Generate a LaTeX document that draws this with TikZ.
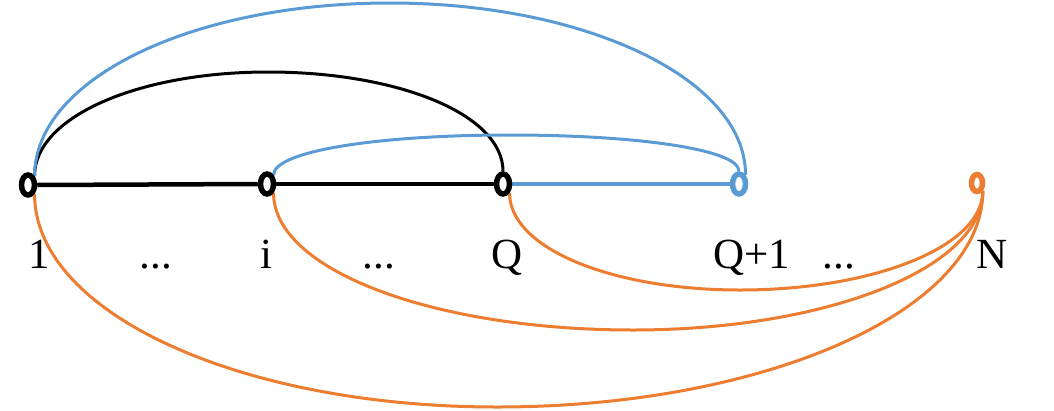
\documentclass[tikz,border=0pt]{standalone}
\usepackage{fontspec}
\setmainfont{Liberation Serif}
\usetikzlibrary{shapes.geometric,backgrounds}
\definecolor{oblue}{HTML}{5B9BD5}
\definecolor{oorange}{HTML}{ED7D31}
\begin{document}
\begin{tikzpicture}[x=1pt,y=-1pt,
  vtx/.style={ellipse,draw=black,line width=5.5pt,fill=white,inner sep=0pt,minimum width=13pt,minimum height=20pt},
  lbl/.style={anchor=base,font=\fontsize{43}{50}\selectfont,inner sep=0pt},
  blkline/.style={draw=black,line width=4.5pt},
  blkarc/.style={draw=black,line width=3pt},
  blueline/.style={draw=oblue,line width=3.5pt},
  bluearc/.style={draw=oblue,line width=3pt},
  orarc/.style={draw=oorange,line width=3pt}]
\useasboundingbox (0,0) rectangle (1054,410);
% vertices
\node[vtx] (n1) at (28,185) {};
\node[vtx] (ni) at (267,184) {};
\node[vtx] (nQ) at (503,184) {};
\node[vtx,draw=oblue] (nQ1) at (739,184) {};
\node[vtx,draw=oorange,minimum width=11pt,minimum height=17pt] (nN) at (977,183) {};
% labels
\node[lbl] (l1) at (39,268) {1};
\node[lbl] (d1) at (156,268) {...};
\node[lbl] (li) at (266,268) {i};
\node[lbl] (d2) at (379,268) {...};
\node[lbl] (lQ) at (507,268) {Q};
\node[lbl] (lQ1) at (752,268) {Q+1};
\node[lbl] (d3) at (839,268) {...};
\node[lbl] (lN) at (992,268) {N};
% connectors
\coordinate (tb) at (268,72);
\coordinate (tB) at (390,3);
\coordinate (ts) at (510,135);
\coordinate (b1) at (740,290);
\coordinate (b2) at (633,330);
\coordinate (b3) at (497,407);
\begin{scope}[on background layer]
\draw[blkline] (n1.east) -- (ni.west);
\draw[blkline] (ni.east) -- (nQ.west);
\draw[blueline] (nQ.east) -- (nQ1.west);
\draw[blkarc] (n1.north east) .. controls +(0,-59) and +(-130,0) .. (tb)
   .. controls +(130,0) and +(0,-57) .. (nQ.north);
\draw[bluearc] (n1.north east) .. controls +(0,-97) and +(-198,0) .. (tB)
   .. controls +(194,0) and +(0,-97) .. (nQ1.north east);
\draw[bluearc] (ni.north east) .. controls +(0,-24) and +(-132,0) .. (ts)
   .. controls +(126,0) and +(0,-22) .. (nQ1.north);
\draw[orarc] (nQ.south east) .. controls +(0,55) and +(-129,0) .. (b1)
   .. controls +(133,0) and +(0,56) .. (nN.south east);
\draw[orarc] (ni.south east) .. controls +(0,77) and +(-200,0) .. (b2)
   .. controls +(192,0) and +(0,78) .. (nN.south east);
\draw[orarc] (n1.south east) .. controls +(0,119) and +(-257,0) .. (b3)
   .. controls +(267,0) and +(0,120) .. (nN.south east);
\end{scope}
\end{tikzpicture}
\end{document}
